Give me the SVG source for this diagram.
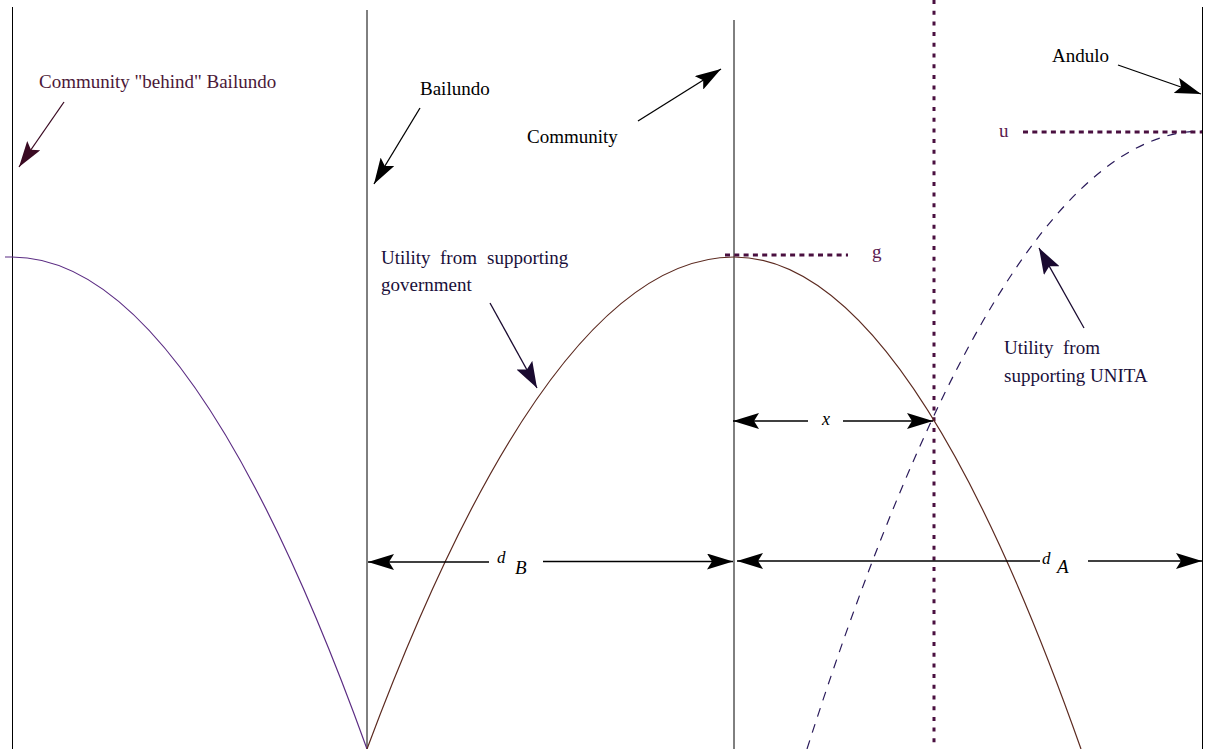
<svg xmlns="http://www.w3.org/2000/svg" width="1211" height="749" viewBox="0 0 1211 749">
<style>
text{font-family:"Liberation Serif","Times New Roman",serif;font-size:19px;fill:#000}
.it{font-style:italic}
.vline{stroke:#000;stroke-width:1;fill:none}
.lbl{stroke-width:1.3;fill:none}
.dot{stroke:#4a1040;stroke-width:3;fill:none}
</style>
<defs>
<marker id="ah" viewBox="0 0 26 16" refX="26" refY="8" markerWidth="26" markerHeight="16" markerUnits="userSpaceOnUse" orient="auto">
<path d="M26,8 L0,0 L5,8 L0,16 Z" fill="#000"/>
</marker>
<marker id="ahm" viewBox="0 0 26 16" refX="26" refY="8" markerWidth="26" markerHeight="16" markerUnits="userSpaceOnUse" orient="auto">
<path d="M26,8 L0,0 L5,8 L0,16 Z" fill="#3a0a22"/>
</marker>
<marker id="ahn" viewBox="0 0 26 18" refX="26" refY="9" markerWidth="26" markerHeight="18" markerUnits="userSpaceOnUse" orient="auto">
<path d="M26,9 L0,0 L5,9 L0,18 Z" fill="#1a0a30"/>
</marker>
</defs>

<g id="axes">
<line class="vline" x1="12.5" y1="7" x2="12.5" y2="749"/>
<line class="vline" x1="367" y1="10" x2="367" y2="749"/>
<line class="vline" x1="734" y1="20" x2="734" y2="749"/>
<line class="vline" x1="1202.5" y1="7" x2="1202.5" y2="749"/>
<line class="dot" x1="934" y1="0" x2="934" y2="749" stroke-dasharray="4,6.7"/>
</g>

<g id="curves">
<path d="M5,257 L12,257 Q189.5,257 367,749" stroke="#5b2c83" stroke-width="1.2" fill="none"/>
<path d="M367,749 Q550.5,257 734,257 Q907.5,257 1081,749" stroke="#5c2a20" stroke-width="1.2" fill="none"/>
<path d="M807,749 Q1004.5,131 1202,131" stroke="#2a1a5a" stroke-width="1.2" fill="none" stroke-dasharray="9,8"/>
<line class="dot" x1="725" y1="255" x2="848" y2="255" stroke-dasharray="5,4.3" stroke-width="2.6"/>
<line class="dot" x1="1023" y1="132" x2="1202" y2="132" stroke-dasharray="5,4.3" stroke-width="2.6"/>
</g>

<g id="label-behind">
<text x="39" y="88" style="fill:#4b1838">Community "behind" Bailundo</text>
</g>
<g id="label-bailundo">
<text x="420" y="95">Bailundo</text>
</g>
<g id="label-community">
<text x="527" y="143">Community</text>
</g>
<g id="label-andulo">
<text x="1052" y="62">Andulo</text>
</g>
<g id="label-u">
<text x="999" y="137" style="fill:#5a1a50">u</text>
</g>
<g id="label-g">
<text x="872" y="258" style="fill:#5a1a50">g</text>
</g>
<g id="label-gov" style="fill:#1a0f3a">
<text x="381" y="264" style="fill:#1a0f3a">Utility</text>
<text x="440" y="264" style="fill:#1a0f3a">from</text>
<text x="487" y="264" style="fill:#1a0f3a">supporting</text>
<text x="381" y="291" style="fill:#1a0f3a">government</text>
</g>
<g id="label-unita">
<text x="1004" y="354" style="fill:#1a0f3a">Utility</text>
<text x="1063" y="354" style="fill:#1a0f3a">from</text>
<text x="1004" y="382" style="fill:#1a0f3a">supporting UNITA</text>
</g>
<g id="label-x">
<text class="it" x="822" y="425" style="font-size:18px">x</text>
</g>
<g id="label-dB">
<text class="it" x="497" y="563" style="font-size:17px">d</text>
<text class="it" x="515" y="574" style="font-size:19px">B</text>
</g>
<g id="label-dA">
<text class="it" x="1042" y="564" style="font-size:17px">d</text>
<text class="it" x="1057" y="573" style="font-size:19px">A</text>
</g>

<g id="connectors">
<line class="lbl" stroke="#3a0a22" x1="64" y1="102" x2="19" y2="167" marker-end="url(#ahm)" stroke-width="2"/>
<line class="lbl" stroke="#000" x1="420" y1="108" x2="374" y2="184" marker-end="url(#ah)"/>
<line class="lbl" stroke="#000" x1="638" y1="121" x2="721" y2="69" marker-end="url(#ah)"/>
<line class="lbl" stroke="#000" x1="1118" y1="65" x2="1201" y2="94" marker-end="url(#ah)"/>
<line class="lbl" stroke="#1a0a30" x1="490" y1="303" x2="537" y2="388" marker-end="url(#ahn)" stroke-width="2.4"/>
<line class="lbl" stroke="#1a0a30" x1="1084" y1="328" x2="1039" y2="248" marker-end="url(#ahn)" stroke-width="2.4"/>
<line class="lbl" stroke="#000" x1="808" y1="421" x2="733" y2="421" marker-end="url(#ah)"/>
<line class="lbl" stroke="#000" x1="843" y1="421" x2="933" y2="421" marker-end="url(#ah)"/>
<line class="lbl" stroke="#000" x1="489" y1="562" x2="368" y2="562" marker-end="url(#ah)"/>
<line class="lbl" stroke="#000" x1="543" y1="561.5" x2="733" y2="561.5" marker-end="url(#ah)"/>
<line class="lbl" stroke="#000" x1="1040" y1="561" x2="737" y2="561" marker-end="url(#ah)"/>
<line class="lbl" stroke="#000" x1="1088" y1="561" x2="1202" y2="561" marker-end="url(#ah)"/>
</g>
</svg>
